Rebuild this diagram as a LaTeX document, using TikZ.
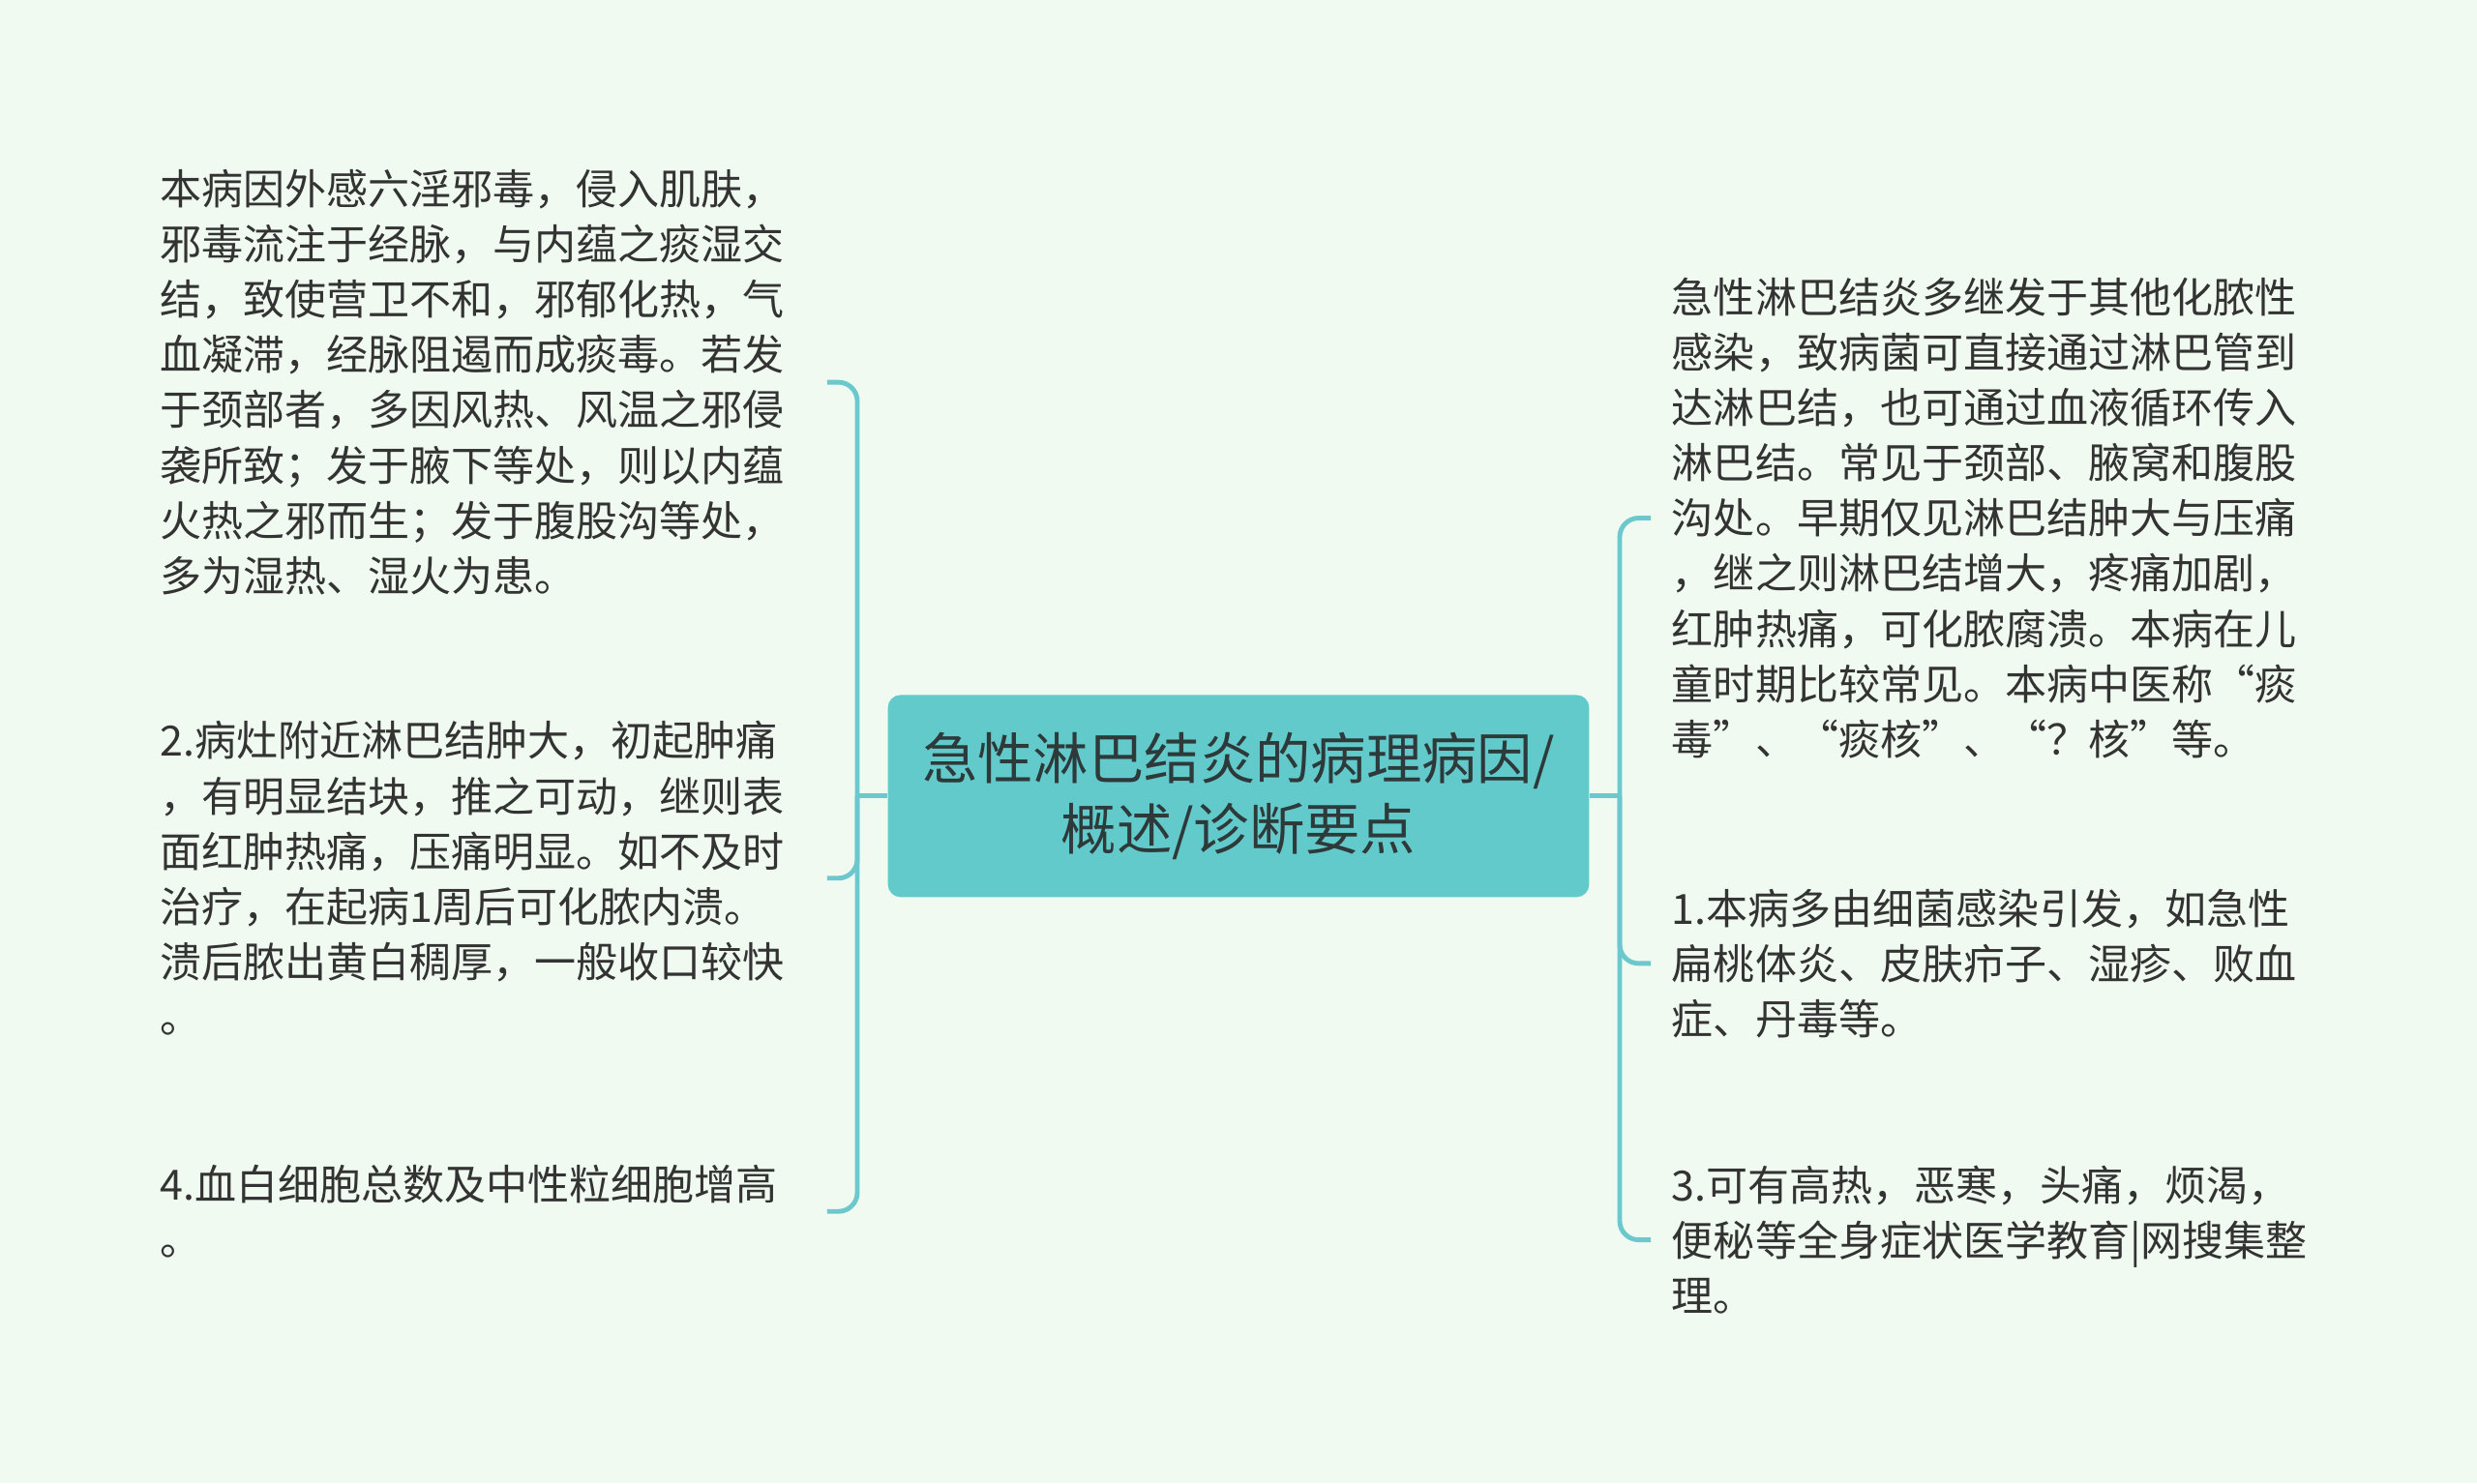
\documentclass[tikz,border=0pt]{standalone}
\usepackage{fontspec}
\newfontfamily\cjk{Noto Sans CJK SC}
\definecolor{bgmint}{HTML}{F0FAF0}
\definecolor{rootfill}{HTML}{63CACC}
\definecolor{branchline}{HTML}{6CC8CC}
\definecolor{bodytext}{HTML}{333333}
\definecolor{roottext}{HTML}{2E3A3A}

\begin{document}
\begin{tikzpicture}[x=0.02cm, y=-0.02cm]

            \tikzset{leaf/.style={anchor=west, align=left, inner sep=0pt, text=bodytext,
                       font=\cjk\fontsize{15}{19.9}\selectfont},
                     link/.style={branchline, line width=1.7pt, rounded corners=0.24cm}}

            \fill [bgmint] (0,0) rectangle (1568,939);
            \useasboundingbox (0,0) rectangle (1568,939);

            \node [fill=rootfill, rounded corners=0.16cm, minimum width=8.88cm, minimum height=2.56cm,
                   align=center, text=roottext, font=\cjk\fontsize{20}{25.6}\selectfont]
                  (root) at (784,504) {急性淋巴结炎的病理病因/\\概述/诊断要点};

            % left side
            \node [leaf, text width=8.2cm] (cause) at (101,242) {本病因外感六淫邪毒，侵入肌肤，\\邪毒流注于经脉，与内蕴之痰湿交\\结，致使营卫不和，邪郁化热，气\\血凝滞，经脉阻遏而成痰毒。若发\\于颈部者，多因风热、风温之邪侵\\袭所致；发于腋下等处，则以内蕴\\火热之邪而生；发于腹股沟等处，\\多为湿热、湿火为患。};
            \node [leaf, text width=8.2cm] (focus) at (101,556) {2.病灶附近淋巴结肿大，初起肿痛\\，有明显结块，推之可动，继则表\\面红肿热痛，压痛明显。如不及时\\治疗，在起病1周后可化脓内溃。\\溃后脓出黄白稠厚，一般收口较快\\。};
            \node [leaf, text width=8.2cm] (blood) at (101,767) {4.血白细胞总数及中性粒细胞增高\\。};

            % right side
            \node [leaf] (overview) at (1058,328) {急性淋巴结炎多继发于其他化脓性\\感染，致病菌可直接通过淋巴管到\\达淋巴结，也可通过血液循环传入\\淋巴结。常见于颈部、腋窝和腹股\\沟处。早期仅见淋巴结肿大与压痛\\，继之则淋巴结增大，疼痛加剧，\\红肿热痛，可化脓腐溃。本病在儿\\童时期比较常见。本病中医称“痰\\毒”、“痰核”、“？核”等。};
            \node [leaf] (infect) at (1058,610) {1.本病多由细菌感染引发，如急性\\扁桃体炎、皮肤疖子、湿疹、败血\\症、丹毒等。};
            \node [leaf] (fever) at (1058,785) {3.可有高热，恶寒，头痛，烦渴，\\便秘等全身症状医学教育|网搜集整\\理。};

            \coordinate (jl) at ([xshift=-0.38cm]root.west);
            \coordinate (jr) at ([xshift=0.38cm]root.east);

            \draw [link] (root.west) -- (jl);
            \draw [link] (jl) |- ([xshift=0.24cm]cause.east);
            \draw [link] (jl) |- ([xshift=0.24cm]focus.east);
            \draw [link] (jl) |- ([xshift=0.24cm]blood.east);

            \draw [link] (root.east) -- (jr);
            \draw [link] (jr) |- ([xshift=-0.26cm]overview.west);
            \draw [link] (jr) |- ([xshift=-0.26cm]infect.west);
            \draw [link] (jr) |- ([xshift=-0.26cm]fever.west);

\end{tikzpicture}
\end{document}
